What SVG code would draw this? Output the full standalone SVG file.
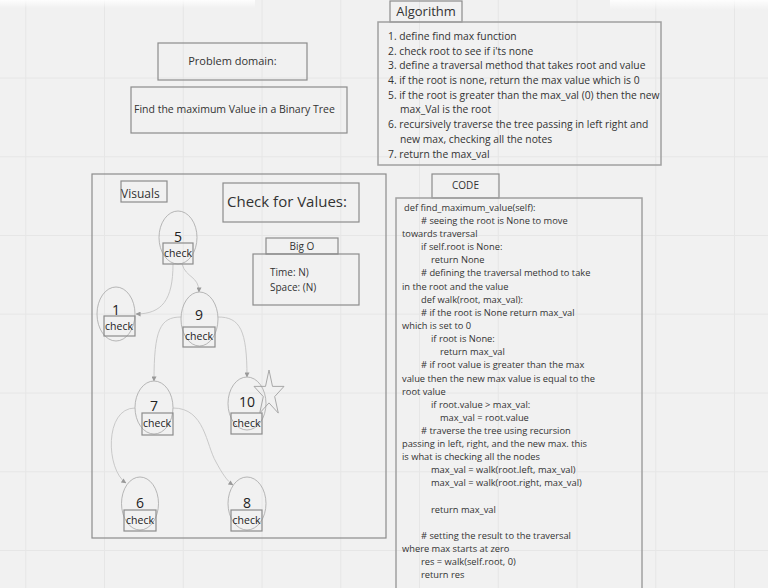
<svg xmlns="http://www.w3.org/2000/svg" width="768" height="588" viewBox="0 0 768 588">
<defs>
  <style>
    text { font-family: "Open Sans", "Liberation Sans", sans-serif; fill: #333; }
    .box { fill: none; stroke: #8c8c8c; stroke-width: 1.2; }
    .box2 { fill: none; stroke: #a0a0a0; stroke-width: 1.5; }
    .ell { fill: none; stroke: #a6a6a6; stroke-width: 0.8; }
    .chk { fill: none; stroke: #8c8c8c; stroke-width: 1.2; }
    .ct { font-size: 10.5px; text-anchor: middle; fill: #222; }
    .num { font-size: 14px; text-anchor: middle; fill: #222; }
    .alg { font-size: 10.3px; }
    .code { font-size: 9.3px; }
    .grid { stroke: #e6e6e6; stroke-width: 1; }
    .conn path { fill: none; stroke: #c4c4c4; stroke-width: 0.9; }
  </style>
  <marker id="arr" viewBox="0 0 6 6" refX="5.5" refY="3" markerWidth="5" markerHeight="5" orient="auto" markerUnits="userSpaceOnUse">
    <path d="M0,0 L6,3 L0,6 z" fill="#999"/>
  </marker>
  <linearGradient id="shade" x1="0" y1="0" x2="0" y2="1">
    <stop offset="0" stop-color="#fff" stop-opacity="0.9"/>
    <stop offset="1" stop-color="#fff" stop-opacity="0"/>
  </linearGradient>
</defs>
<rect width="768" height="588" fill="#f1f1f1"/>
<g id="grid">
  <path class="grid" d="M25.8,0V588M104.5,0V588M183.3,0V588M262,0V588M340.8,0V588M419.5,0V588M498.3,0V588M577,0V588M655.8,0V588M734.5,0V588M0,78H768M0,156.8H768M0,235.5H768M0,314.2H768M0,393H768M0,471.8H768M0,550.5H768"/>
</g>
<rect x="0" y="0" width="255" height="8" fill="url(#shade)"/>
<rect x="610" y="0" width="158" height="10" fill="url(#shade)"/>

<g id="problem-domain">
  <rect class="box" x="158" y="43" width="149" height="37"/>
  <text x="232.5" y="65" font-size="11" text-anchor="middle">Problem domain:</text>
</g>
<g id="problem-text">
  <rect class="box" x="131" y="87" width="216" height="46"/>
  <text x="134" y="113" font-size="10.5">Find the maximum Value in a Binary Tree</text>
</g>

<g id="algorithm-title">
  <rect class="box" x="390" y="1" width="72" height="21"/>
  <text x="426" y="16" font-size="13" text-anchor="middle">Algorithm</text>
</g>
<g id="algorithm-body">
  <rect class="box2" x="378" y="22" width="283" height="143"/>
  <text class="alg" x="388" y="40">1. define find max function</text>
  <text class="alg" x="388" y="55">2. check root to see if i'ts none</text>
  <text class="alg" x="388" y="69">3. define a traversal method that takes root and value</text>
  <text class="alg" x="388" y="84">4. if the root is none, return the max value which is 0</text>
  <text class="alg" x="388" y="99">5. if the root is greater than the max_val (0) then the new</text>
  <text class="alg" x="400" y="113">max_Val is the root</text>
  <text class="alg" x="388" y="128">6. recursively traverse the tree passing in left right and</text>
  <text class="alg" x="400" y="143">new max, checking all the notes</text>
  <text class="alg" x="388" y="158">7. return the max_val</text>
</g>

<g id="visuals-frame">
  <rect class="box" x="92" y="174" width="294" height="364"/>
</g>
<g id="visuals-label">
  <rect class="box" x="121" y="181" width="46" height="21"/>
  <text x="121" y="198" font-size="12">Visuals</text>
</g>
<g id="check-for-values">
  <rect class="box" x="223" y="183" width="136" height="39"/>
  <text x="287" y="207" font-size="15" text-anchor="middle">Check for Values:</text>
</g>
<g id="big-o-title">
  <rect class="box" x="266" y="238" width="72" height="16"/>
  <text x="302" y="250" font-size="10" text-anchor="middle">Big O</text>
</g>
<g id="big-o-body">
  <rect class="box" x="253" y="254" width="106" height="51"/>
  <text x="270" y="276" font-size="10">Time: N)</text>
  <text x="270" y="291" font-size="10">Space: (N)</text>
</g>

<g class="conn" id="connectors">
  <path d="M173,264 C173,300 162,314 136,314" marker-end="url(#arr)"/>
  <path d="M182,264 C186,278 199,276 199,292" marker-end="url(#arr)"/>
  <path d="M181,317 C160,317 154,330 154,381" marker-end="url(#arr)"/>
  <path d="M218,317 C240,317 247,330 247,377" marker-end="url(#arr)"/>
  <path d="M135,408 C104,408 106,470 126,483" marker-end="url(#arr)"/>
  <path d="M173,408 C205,408 206,445 216,462 C222,473 227,481 233,485" marker-end="url(#arr)"/>
</g>

<g id="node-5">
  <ellipse class="ell" cx="178" cy="237.5" rx="19" ry="26.5"/>
  <text class="num" x="178" y="242">5</text>
  <rect class="chk" x="163" y="243" width="30" height="21"/>
  <text class="ct" x="178" y="257">check</text>
</g>
<g id="node-1">
  <ellipse class="ell" cx="116" cy="314" rx="19" ry="27"/>
  <text class="num" x="116" y="314.5">1</text>
  <rect class="chk" x="104" y="316" width="31" height="20"/>
  <text class="ct" x="119" y="330">check</text>
</g>
<g id="node-9">
  <ellipse class="ell" cx="199.5" cy="319" rx="18.5" ry="27"/>
  <text class="num" x="199" y="320">9</text>
  <rect class="chk" x="183" y="327" width="32" height="20"/>
  <text class="ct" x="199" y="340">check</text>
</g>
<g id="node-7">
  <ellipse class="ell" cx="154" cy="407.5" rx="19" ry="26.5"/>
  <text class="num" x="154" y="411">7</text>
  <rect class="chk" x="142" y="413" width="31" height="22"/>
  <text class="ct" x="157" y="427">check</text>
</g>
<g id="node-10">
  <ellipse class="ell" cx="247" cy="403.5" rx="19" ry="26.5"/>
  <text class="num" x="247" y="407">10</text>
  <rect class="chk" x="231" y="413" width="31" height="21"/>
  <text class="ct" x="246.5" y="427">check</text>
  <polygon fill="none" stroke="#a0a0a0" stroke-width="0.9" points="269,370 272.5,386.4 284,386.4 274.7,396.6 278.3,413.1 269,402.9 259.7,413.1 263.3,396.6 254,386.4 265.5,386.4"/>
</g>
<g id="node-6">
  <ellipse class="ell" cx="140" cy="503.5" rx="18.5" ry="26.5"/>
  <text class="num" x="140" y="508">6</text>
  <rect class="chk" x="124" y="510" width="32" height="21"/>
  <text class="ct" x="140" y="524">check</text>
</g>
<g id="node-8">
  <ellipse class="ell" cx="247" cy="503.5" rx="19" ry="26.5"/>
  <text class="num" x="247" y="508">8</text>
  <rect class="chk" x="231" y="510" width="31" height="21"/>
  <text class="ct" x="246.5" y="524">check</text>
</g>

<g id="code-title">
  <rect class="box" x="432" y="174" width="67" height="24"/>
  <text x="465.5" y="189" font-size="10" text-anchor="middle">CODE</text>
</g>
<g id="code-body">
  <rect class="box2" x="396" y="198" width="246" height="400"/>
  <text class="code" x="404" y="211">def find_maximum_value(self):</text>
  <text class="code" x="421" y="224"># seeing the root is None to move</text>
  <text class="code" x="402" y="237">towards traversal</text>
  <text class="code" x="421" y="250">if self.root is None:</text>
  <text class="code" x="431" y="263">return None</text>
  <text class="code" x="421" y="276"># defining the traversal method to take</text>
  <text class="code" x="402" y="290">in the root and the value</text>
  <text class="code" x="421" y="303">def walk(root, max_val):</text>
  <text class="code" x="421" y="316"># if the root is None return max_val</text>
  <text class="code" x="402" y="329">which is set to 0</text>
  <text class="code" x="431" y="342">if root is None:</text>
  <text class="code" x="440" y="355">return max_val</text>
  <text class="code" x="421" y="368"># if root value is greater than the max</text>
  <text class="code" x="402" y="382">value then the new max value is equal to the</text>
  <text class="code" x="402" y="395">root value</text>
  <text class="code" x="431" y="408">if root.value &gt; max_val:</text>
  <text class="code" x="440" y="421">max_val = root.value</text>
  <text class="code" x="421" y="434"># traverse the tree using recursion</text>
  <text class="code" x="402" y="447">passing in left, right, and the new max. this</text>
  <text class="code" x="402" y="460">is what is checking all the nodes</text>
  <text class="code" x="431" y="473">max_val = walk(root.left, max_val)</text>
  <text class="code" x="431" y="486">max_val = walk(root.right, max_val)</text>
  <text class="code" x="431" y="513">return max_val</text>
  <text class="code" x="421" y="539"># setting the result to the traversal</text>
  <text class="code" x="402" y="552">where max starts at zero</text>
  <text class="code" x="421" y="565">res = walk(self.root, 0)</text>
  <text class="code" x="421" y="578">return res</text>
</g>
</svg>
